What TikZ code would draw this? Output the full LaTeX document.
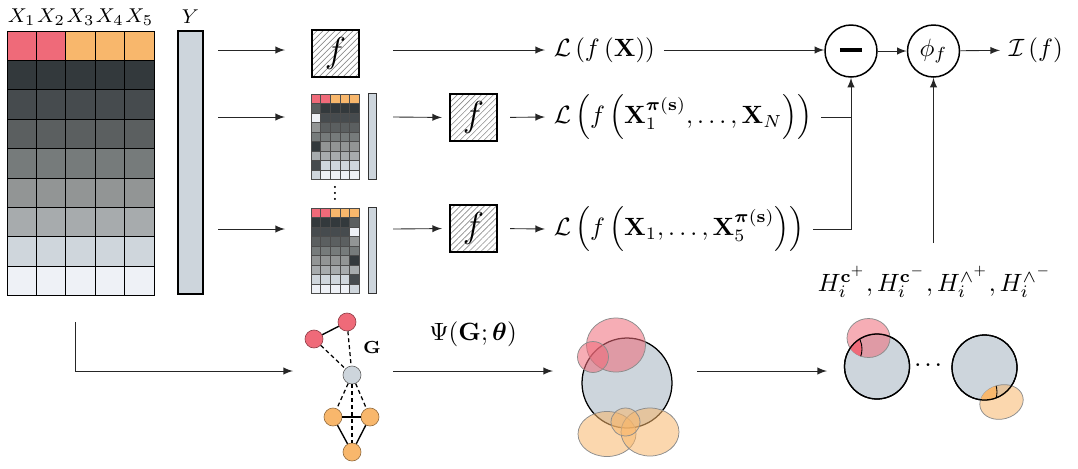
\documentclass[tikz,border=0pt]{standalone}
\usepackage{amsmath,amssymb}
\usetikzlibrary{arrows,patterns.meta}

\definecolor{redcell}{HTML}{EF6A79}
\definecolor{orangecell}{HTML}{F8B76C}
\definecolor{greyA}{HTML}{33393C}
\definecolor{greyB}{HTML}{464B4E}
\definecolor{greyC}{HTML}{5B5F60}
\definecolor{greyD}{HTML}{767B7B}
\definecolor{greyE}{HTML}{929595}
\definecolor{greyF}{HTML}{A7ABAD}
\definecolor{greyG}{HTML}{CFD6DC}
\definecolor{greyH}{HTML}{EEF1F6}
\definecolor{barfill}{HTML}{CDD5DC}

\tikzset{
  arr/.style={->,>=latex,line width=0.35pt,draw=black!85},
  cell/.style={draw=black,line width=0.35pt},
  minicell/.style={draw=black!70,line width=0.2pt},
  fbox/.style={draw,line width=0.45pt,minimum size=18.8pt,inner sep=0pt,
    pattern={Lines[angle=45,distance=1.7pt,line width=0.25pt]},pattern color=black!45},
  opcirc/.style={circle,draw,line width=0.6pt,minimum size=20.8pt,inner sep=0pt},
  gnode/.style={circle,inner sep=0pt,minimum size=7.2pt,line width=0.25pt},
  gedge/.style={line width=0.55pt},
  gdash/.style={line width=0.5pt,dash pattern=on 1.6pt off 1.2pt},
  venn/.style={draw=black!45,line width=0.3pt,fill opacity=0.55},
}

\begin{document}
\begin{tikzpicture}[x=0.4pt,y=-0.4pt]
\useasboundingbox (0,0) rectangle (1078,468);

% data table and target
\foreach \row [count=\r from 0] in {
  {redcell,redcell,orangecell,orangecell,orangecell},
  {greyA,greyA,greyA,greyA,greyA},{greyB,greyB,greyB,greyB,greyB},
  {greyC,greyC,greyC,greyC,greyC},{greyD,greyD,greyD,greyD,greyD},
  {greyE,greyE,greyE,greyE,greyE},{greyF,greyF,greyF,greyF,greyF},
  {greyG,greyG,greyG,greyG,greyG},{greyH,greyH,greyH,greyH,greyH}}
  \foreach \col [count=\c from 0] in \row
    \draw[cell,fill=\col] (7+29.4*\c,31+29.4*\r) rectangle ++(29.4,29.4);

\foreach \lab [count=\c from 0] in {X_1,X_2,X_3,X_4,X_5}
  \node[font=\footnotesize] (x\c) at (21.7+29.4*\c,17) {$\lab$};
\node[font=\footnotesize] (ylab) at (190.5,17) {$Y$};
\node[draw,line width=0.9pt,fill=barfill,minimum width=10pt,minimum height=105.2pt,inner sep=0pt] (ybar) at (190.5,162.5) {};

% permuted tables
\foreach \row [count=\r from 0] in {
  {redcell,redcell,orangecell,orangecell,orangecell},
  {greyC,greyA,greyA,greyA,greyA},{greyH,greyB,greyB,greyB,greyB},
  {greyE,greyC,greyC,greyC,greyC},{greyD,greyD,greyD,greyD,greyD},
  {greyA,greyE,greyE,greyE,greyE},{greyF,greyF,greyF,greyF,greyF},
  {greyB,greyG,greyG,greyG,greyG},{greyG,greyH,greyH,greyH,greyH}}
  \foreach \col [count=\c from 0] in \row
    \draw[minicell,fill=\col] (311+9.6*\c,94+9.5*\r) rectangle ++(9.6,9.5);
\foreach \row [count=\r from 0] in {
  {redcell,redcell,orangecell,orangecell,orangecell},
  {greyA,greyA,greyA,greyA,greyC},{greyB,greyB,greyB,greyB,greyH},
  {greyC,greyC,greyC,greyC,greyE},{greyD,greyD,greyD,greyD,greyD},
  {greyE,greyE,greyE,greyE,greyA},{greyF,greyF,greyF,greyF,greyF},
  {greyG,greyG,greyG,greyG,greyB},{greyH,greyH,greyH,greyH,greyG}}
  \foreach \col [count=\c from 0] in \row
    \draw[minicell,fill=\col] (311+9.6*\c,208+9.5*\r) rectangle ++(9.6,9.5);
\node[draw=black!80,line width=0.4pt,fill=barfill,minimum width=3.2pt,minimum height=34.2pt,inner sep=0pt] (ybar1) at (372,136.5) {};
\node[draw=black!80,line width=0.4pt,fill=barfill,minimum width=3.2pt,minimum height=34.2pt,inner sep=0pt] (ybar2) at (372,250.5) {};
\node[inner sep=0pt] (vdots) at (335,189) {\scalebox{0.6}{\Large\boldmath$\vdots$}};

% model
\node[fbox,font=\Large] (f1) at (335.5,53.5) {$f$};
\node[fbox,font=\Large] (f2) at (473.5,117.5) {$f$};
\node[fbox,font=\Large] (f3) at (473.5,228.5) {$f$};

\node[anchor=west] (L1) at (545,50) {$\mathcal{L}\left(f\left(\mathbf{X}\right)\right)$};
\node[anchor=west] (L2) at (545,117) {$\mathcal{L}\left(f\left(\mathbf{X}_1^{\boldsymbol{\pi}(\mathbf{s})},\ldots,\mathbf{X}_N\right)\right)$};
\node[anchor=west] (L3) at (545,229) {$\mathcal{L}\left(f\left(\mathbf{X}_1,\ldots,\mathbf{X}_5^{\boldsymbol{\pi}(\mathbf{s})}\right)\right)$};

\node[opcirc] (minus) at (851,51) {\rule[0.9pt]{9pt}{1.5pt}};
\node[opcirc] (phi) at (933.5,51) {$\phi_f$};
\node[anchor=west] (imp) at (1000,50) {$\mathcal{I}\left(f\right)$};
\node (hlab) at (935,282) {$H_i^{\mathbf{c}^+},H_i^{\mathbf{c}^-},H_i^{\wedge^+},H_i^{\wedge^-}$};

\coordinate (s1) at (218,50);  \coordinate (e1) at (285,50);
\coordinate (s2) at (218,117); \coordinate (e2) at (285,117);
\coordinate (s3) at (218,229); \coordinate (e3) at (285,229);
\coordinate (m2) at (393,117); \coordinate (m3) at (393,229);
\coordinate (hs) at (933.5,243);

\draw[arr] (s1) -- (e1);
\draw[arr] (s2) -- (e2);
\draw[arr] (s3) -- (e3);
\draw[arr] (f1.east |- L1) ++(34,0) -- (L1.west);
\draw[arr,shorten >=3pt] (m2) -- (f2.west);
\draw[arr,shorten >=3pt] (m3) -- (f3.west);
\draw[arr,shorten <=5pt] (f2.east) -- (L2.west);
\draw[arr,shorten <=5pt] (f3.east) -- (L3.west);
\draw[arr] (L1.east) -- (minus.west |- L1.east);
\draw[line width=0.35pt,draw=black!85] (L2.east) -- (L2.east -| minus.south);
\draw[arr] (L3.east) -| (minus.south);
\draw[arr] (minus) -- (phi);
\draw[arr] (phi) -- (imp);
\draw[arr] (hs) -- (phi.south);

% graph
\node[gnode,fill=redcell,draw=redcell!60!black] (r1) at (347,322) {};
\node[gnode,fill=redcell,draw=redcell!60!black] (r2) at (314,339) {};
\node[gnode,fill=barfill,draw=black!60] (c0) at (352,375) {};
\node[gnode,fill=orangecell,draw=orangecell!60!black] (o1) at (333,417) {};
\node[gnode,fill=orangecell,draw=orangecell!60!black] (o2) at (370,417) {};
\node[gnode,fill=orangecell,draw=orangecell!60!black] (o3) at (352,452) {};
\node[font=\scriptsize] (glab) at (372,347) {$\mathbf{G}$};

\draw[gedge] (r1) -- (r2);
\draw[gdash] (r1) -- (c0);
\draw[gdash] (r2) -- (c0);
\draw[gdash] (c0) -- (o1);
\draw[gdash] (c0) -- (o2);
\draw[gdash] (c0) -- (o3);
\draw[gedge] (o1) -- (o2);
\draw[gedge] (o1) -- (o3);
\draw[gedge] (o2) -- (o3);

\coordinate (gs) at (75,322); \coordinate (ge) at (293,371);
\draw[arr] (gs) |- (ge);
\coordinate (ps) at (393,371); \coordinate (pe) at (553,371);
\draw[arr] (ps) -- (pe) node[midway,above=6pt] (psi) {$\Psi(\mathbf{G};\boldsymbol{\theta})$};
\coordinate (vs) at (697,371); \coordinate (ve) at (827,371);
\draw[arr] (vs) -- (ve);

% boxes
\draw[line width=0.5pt,fill=barfill] (627,383) circle [radius=45];
\draw[venn,fill=redcell] (616,345) ellipse [x radius=29.5,y radius=27];
\draw[venn,fill=redcell] (593,357) circle [radius=15.5];
\draw[venn,fill=orangecell] (607,434) ellipse [x radius=29,y radius=22.5];
\draw[venn,fill=orangecell] (650,432) ellipse [x radius=29,y radius=24];
\draw[venn,fill=orangecell] (625.5,422) ellipse [x radius=14.5,y radius=14];

\draw[line width=0.5pt,fill=barfill] (877,366.5) circle [radius=32.5];
\draw[venn,fill=redcell] (868.5,338) ellipse [x radius=21.5,y radius=19.5];
\begin{scope}
  \clip (877,366.5) circle [radius=32.5];
  \clip (868.5,338) ellipse [x radius=21.5,y radius=19.5];
  \fill[redcell] (840,349) circle [radius=22];
  \draw[line width=0.35pt] (840,349) circle [radius=22];
\end{scope}
\draw[line width=0.5pt] (877,366.5) circle [radius=32.5];
\node[font=\scriptsize\boldmath] (dots) at (930,365) {$\cdots$};

\draw[line width=0.5pt,fill=barfill] (984.5,367.5) circle [radius=32.5];
\draw[venn,fill=orangecell,rotate around={15:(1001.5,402)}] (1001.5,402) ellipse [x radius=22,y radius=17];
\begin{scope}
  \clip (984.5,367.5) circle [radius=32.5];
  \clip[rotate around={15:(1001.5,402)}] (1001.5,402) ellipse [x radius=22,y radius=17];
  \fill[orangecell] (975,392) circle [radius=22];
  \draw[line width=0.35pt] (975,392) circle [radius=22];
\end{scope}
\draw[line width=0.5pt] (984.5,367.5) circle [radius=32.5];

\end{tikzpicture}
\end{document}
